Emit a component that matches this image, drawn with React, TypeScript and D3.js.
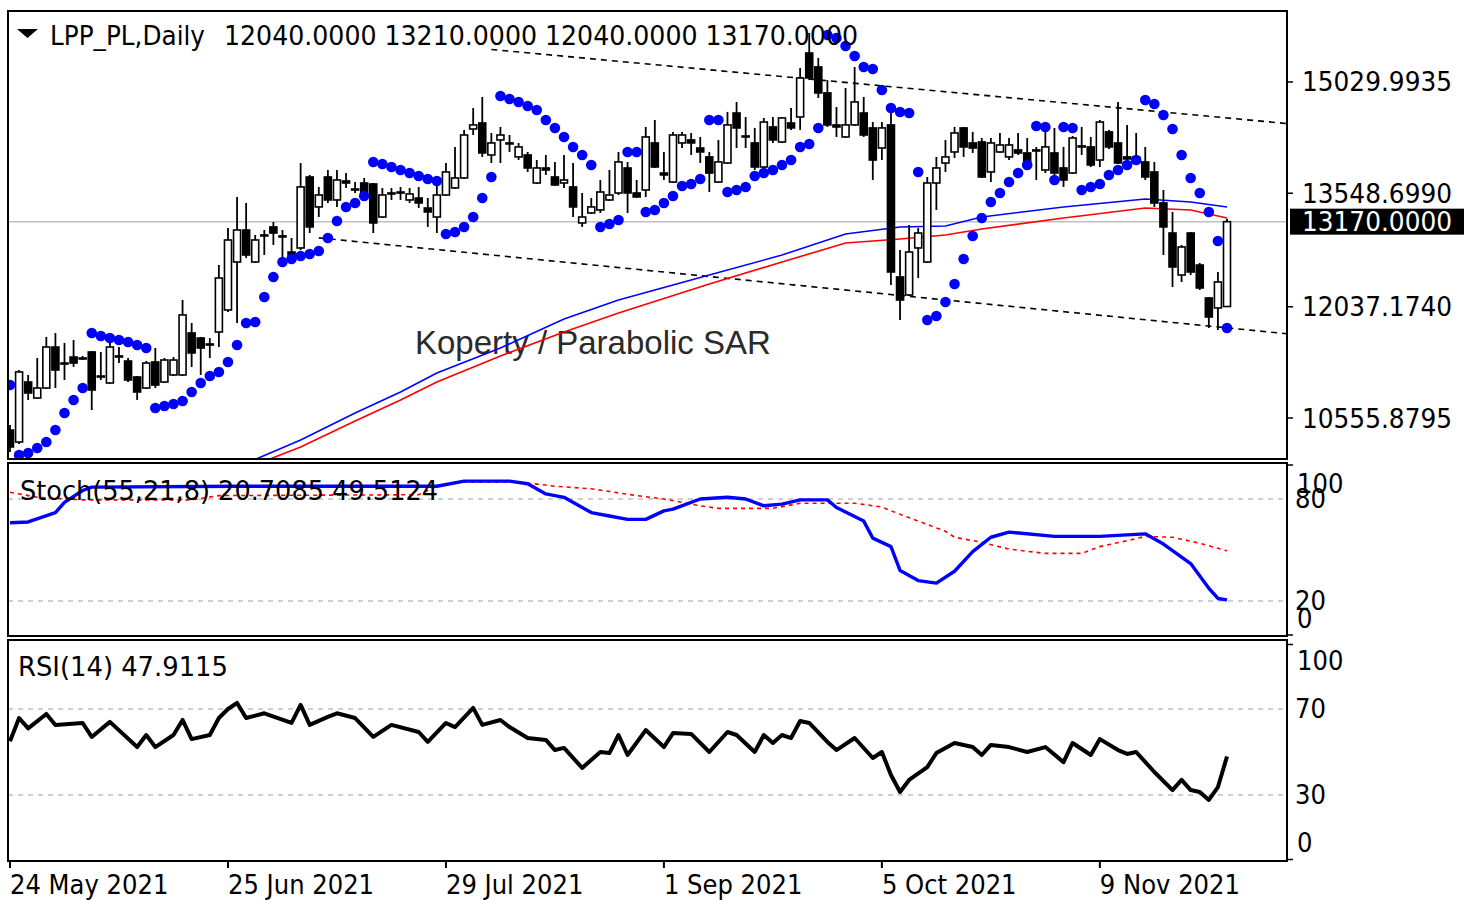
import React from "react";
import * as d3 from "d3";

// ---------- DATA ----------
const tickIdx = [0, 24, 48, 72, 96, 120];
const tickLabels = ["24 May 2021", "25 Jun 2021", "29 Jul 2021", "1 Sep 2021", "5 Oct 2021", "9 Nov 2021"];
const priceTicks = [15029.9935, 13548.699, 12037.174, 10555.8795];
const lastPrice = 13170;
const headerValues = [12040, 13210, 12040, 13170];
const stochHeader = [20.7085, 49.5124];
const rsiHeader = 47.9115;

const opens = [10396, 10236, 11035, 10822, 10955, 11501, 11288, 11368, 11355, 11435,
  11115, 11022, 11382, 11315, 11102, 10955, 11302, 11035, 11129, 11129,
  11688, 11621, 11541, 11701, 11994, 12633, 13059, 12633, 12993, 13100,
  12980, 12766, 12820, 13765, 13366, 13765, 13459, 13712, 13605, 13685,
  13672, 13232, 13552, 13552, 13459, 13485, 13352, 13232, 13525, 13619,
  13752, 14404, 14484, 14058, 14258, 14218, 14032, 14058, 13685, 13885,
  13765, 13685, 13632, 13153, 13286, 13326, 13459, 13552, 13885, 13552,
  13592, 14218, 13818, 13698, 14218, 14258, 14151, 14032, 13698, 13951,
  14617, 14311, 14218, 13898, 14431, 14231, 14484, 14564, 15416, 15230,
  14884, 14458, 14298, 14458, 14617, 14418, 14151, 14458, 12434, 12194,
  12820, 12633, 13685, 13951, 14098, 14418, 14218, 14231, 13832, 14098,
  14032, 14125, 14085, 14125, 13858, 14085, 13885, 13818, 14178, 14165,
  13991, 14365, 14218, 14032, 13951, 13965, 13832, 13419, 13019, 12460,
  13019, 12593, 12154, 12021, 12040];

const highs = [10463, 11195, 11129, 11355, 11635, 11688, 11555, 11595, 11382, 11448,
  11435, 11555, 11501, 11355, 11115, 11315, 11488, 11355, 11368, 12127,
  11821, 11635, 11621, 12593, 13086, 13499, 13419, 12993, 13059, 13166,
  13059, 12953, 13951, 13792, 13632, 13858, 13858, 13818, 13698, 13752,
  13685, 13619, 13619, 13632, 13619, 13632, 13485, 13685, 13951, 14165,
  14391, 14684, 14830, 14351, 14431, 14324, 14218, 14098, 13991, 14058,
  13965, 14058, 13951, 13552, 13485, 13725, 13858, 14098, 13965, 13725,
  14431, 14524, 14098, 14365, 14365, 14351, 14298, 14098, 14258, 14631,
  14764, 14564, 14418, 14551, 14564, 14564, 14684, 15217, 15683, 15350,
  15057, 14697, 14950, 15230, 14830, 14497, 14497, 14617, 12793, 13126,
  13086, 13765, 14032, 14258, 14431, 14431, 14365, 14284, 14284, 14351,
  14284, 14351, 14284, 14165, 14418, 14418, 14165, 14311, 14431, 14298,
  14524, 14391, 14764, 14458, 14351, 14165, 13965, 13592, 13299, 12860,
  13033, 12620, 12167, 12500, 13210];

const lows = [10103, 10210, 10796, 10809, 10942, 10955, 11062, 11235, 11328, 10662,
  11062, 11009, 11288, 11035, 10796, 10942, 10955, 11022, 11115, 11115,
  11235, 11129, 11355, 11501, 11968, 11821, 12686, 12620, 12726, 12860,
  12686, 12713, 12793, 13019, 13232, 13419, 13366, 13619, 13552, 13512,
  13019, 13219, 13459, 13459, 13419, 13352, 13100, 13019, 13512, 13605,
  13738, 14324, 14032, 13951, 13951, 14098, 13991, 13832, 13672, 13792,
  13645, 13619, 13232, 13100, 13272, 13286, 13445, 13525, 13286, 13485,
  13499, 13885, 13725, 13685, 14151, 14058, 13951, 13565, 13685, 13938,
  14151, 14151, 13858, 13885, 14218, 14218, 14391, 14391, 15057, 14817,
  14431, 14298, 14284, 14445, 14298, 13725, 13991, 12327, 11861, 12180,
  12420, 12620, 13326, 13832, 14018, 14032, 14085, 13752, 13698, 14085,
  13991, 14058, 13858, 13725, 13818, 13765, 13632, 13805, 14058, 13898,
  13898, 14138, 13938, 13991, 13938, 13725, 13366, 12726, 12300, 12367,
  12460, 12260, 11754, 11728, 12040];

const closes = [10170, 11169, 10889, 10955, 11501, 11195, 11275, 11288, 11348, 10929,
  11102, 11501, 11368, 11062, 10902, 11288, 10995, 11328, 11328, 11928,
  11422, 11488, 11528, 12420, 12926, 13059, 12726, 12926, 12980, 13019,
  12966, 12726, 13632, 13100, 13525, 13459, 13725, 13685, 13592, 13552,
  13153, 13525, 13539, 13565, 13539, 13419, 13299, 13525, 13832, 13752,
  14324, 14458, 14085, 14218, 14324, 14205, 14165, 13885, 13885, 13858,
  13659, 13725, 13366, 13232, 13366, 13565, 13525, 13965, 13552, 13499,
  14298, 13898, 13792, 14324, 14324, 14218, 14098, 13818, 13965, 14458,
  14418, 14298, 13898, 14497, 14258, 14551, 14418, 15083, 15083, 14884,
  14458, 14431, 14458, 14764, 14324, 13991, 14418, 12500, 12127, 12766,
  13019, 13685, 13885, 14032, 14351, 14165, 14151, 13765, 14218, 14191,
  14191, 14085, 13898, 14111, 14165, 13818, 13725, 14284, 14165, 13925,
  14497, 14165, 13951, 14005, 14032, 13765, 13419, 13100, 12567, 12833,
  12500, 12287, 11901, 12367, 13170];

const sar = [10995, 10063, 10090, 10156, 10236, 10396, 10623, 10796, 10955, 11688,
  11648, 11621, 11595, 11568, 11528, 11488, 10689, 10716, 10742, 10782,
  10902, 11022, 11115, 11169, 11302, 11528, 11821, 11834, 12167, 12434,
  12633, 12673, 12713, 12740, 12780, 12953, 13179, 13366, 13419, 13512,
  13965, 13938, 13898, 13858, 13818, 13778, 13738, 13712, 13006, 13033,
  13100, 13232, 13485, 13765, 14844, 14804, 14764, 14711, 14657, 14524,
  14418, 14298, 14165, 14058, 13925, 13100, 13139, 13192, 14098, 14098,
  13299, 13326, 13419, 13512, 13645, 13672, 13738, 14524, 14524, 13565,
  13592, 13632, 13778, 13818, 13858, 13925, 13991, 14165, 14205, 14418,
  15656, 15616, 15509, 15376, 15230, 15203, 14924, 14684, 14631, 14617,
  13832, 11861, 11914, 12101, 12340, 12673, 12980, 13219, 13432, 13552,
  13698, 13818, 13925, 14444, 14431, 13725, 14431, 14418, 13592, 13632,
  13672, 13792, 13858, 13925, 13991, 14790, 14737, 14591, 14404, 14058,
  13752, 13552, 13299, 12913, 11754];

const envIdx = [26, 32, 38, 43, 47, 54, 61, 67, 77, 85, 92, 98, 103, 107, 116, 125, 130, 134];
const envUpper = [9953, 10263, 10623, 10902, 11155, 11488, 11874, 12127, 12460, 12726, 13006, 13100, 13113, 13232, 13366, 13472, 13432, 13366];
const envLower = [9886, 10170, 10516, 10796, 11035, 11382, 11701, 11954, 12340, 12633, 12886, 12940, 12993, 13073, 13219, 13352, 13326, 13219];

const channelUpperIdx = [53, 141];
const channelUpperPrice = [15463, 14472];
const channelLowerIdx = [34, 141];
const channelLowerPrice = [12954, 11673];

const stochIdx = [0, 2, 5, 6, 8, 9, 25, 47, 50, 55, 57, 59, 61, 64, 66, 68, 70, 72, 73, 76, 79, 81, 83, 85, 87, 90, 91, 94, 95, 97, 98, 100, 102, 104, 106, 108, 110, 115, 120, 125, 127, 130, 132, 133, 134];
const stochMain = [66, 66.5, 72, 78, 85, 87, 87.5, 87.5, 90.5, 90.5, 89, 83, 81, 72, 70, 68, 68, 73, 74, 80, 81, 80, 76, 77, 79.5, 79.5, 75, 67, 57, 52, 38, 32, 30.5, 37.5, 49, 57.5, 60.5, 58, 58, 59.5, 53.5, 42, 27.5, 21.5, 20.7];
const signalIdx = [0, 3, 8, 20, 23, 45, 47, 50, 56, 60, 64, 69, 72, 76, 78, 84, 87, 93, 96, 98, 101, 103, 104, 107, 110, 114, 118, 120, 123, 125, 128, 131, 134];
const stochSignal = [84, 81, 79.5, 79.5, 82, 82.5, 87.5, 90, 90, 87.5, 86, 82, 80, 76, 74.5, 74.5, 77.5, 77.5, 75.3, 71, 65, 61, 57.5, 54.5, 50.5, 48, 48, 52, 55.5, 58, 57.5, 54, 49.5];

const rsiIdx = [0, 1, 2, 4, 5, 8, 9, 11, 14, 15, 16, 18, 19, 20, 22, 23, 24, 25, 26, 28,
  31, 32, 33, 35, 36, 38, 40, 42, 45, 46, 48, 49, 51, 52, 54, 55, 57, 59, 60, 61,
  63, 65, 66, 67, 68, 70, 72, 73, 75, 77, 79, 80, 82, 83, 84, 85, 86, 87, 88, 90,
  91, 93, 95, 96, 97, 98, 99, 101, 102, 104, 106, 107, 108, 110, 112, 114, 116, 117, 119, 120,
  122, 123, 124, 126, 128, 129, 130, 131, 132, 133, 134];
const rsiVal = [55, 65.8, 61, 67.7, 62.6, 63.5, 57, 64, 52.3, 57.9, 52.3, 57.9, 64.9, 56, 57.9, 65.8, 70, 72.8, 65.8, 68,
  63.5, 71.9, 62.6, 66.3, 68, 65.8, 57, 62.6, 59.3, 54.7, 63.5, 61.6, 70.5, 62.6, 64.9, 61.6, 56.5, 55.6, 50.9, 51.9,
  42.6, 50, 49.5, 57.9, 48.6, 60.2, 52.3, 58.8, 58.4, 50, 59.3, 57.9, 50, 57.9, 54.2, 57.9, 56.5, 64.4, 63.5, 54.7,
  50.9, 56.5, 47.2, 50, 39.3, 31.4, 37, 43, 49.5, 54.2, 52.3, 48.6, 53.3, 52.3, 50, 52.3, 45.3, 54.2, 48.6, 56,
  50.9, 49.1, 50, 40.7, 32.3, 37, 32.3, 31.4, 27.7, 33.7, 47.9];

const stochLevels = [80, 20];
const rsiLevels = [70, 30];

// ---------- HELPERS ----------
const F = "'DejaVu Sans', Verdana, sans-serif";

function Label(props: { x: number; y: number; text: string; size?: number; fill?: string; len?: number; sx?: number; family?: string }) {
  const { x, y, text, size = 27, fill = "#000", len, sx = 0.9, family = F } = props;
  if (len) {
    return (
      <text x={x} y={y} fontFamily={family} fontSize={size} fill={fill} textLength={len} lengthAdjust="spacingAndGlyphs" dominantBaseline="central">
        {text}
      </text>
    );
  }
  return (
    <text transform={`translate(${x},${y}) scale(${sx},1)`} fontFamily={family} fontSize={size} fill={fill} dominantBaseline="central">
      {text}
    </text>
  );
}

export default function App() {
  const n = closes.length;
  const L = 8, R = 1287;
  const x = d3.scaleLinear().domain([0, n - 1]).range([10, 1227]);
  const y = d3.scaleLinear().domain([10010, 15975]).range([459, 11]);
  const ys = d3.scaleLinear().domain([0, 100]).range([635, 465]);
  const yr = d3.scaleLinear().domain([0, 100]).range([859.5, 644.5]);

  const pairLine = (idx: number[], vals: number[], sy: (v: number) => number) =>
    d3.line<number>().x((_, i) => x(idx[i])).y((d) => sy(d))(vals) || "";

  const envUpPath = pairLine(envIdx, envUpper, y);
  const envLoPath = pairLine(envIdx, envLower, y);
  const chUpPath = pairLine(channelUpperIdx, channelUpperPrice, y);
  const chLoPath = pairLine(channelLowerIdx, channelLowerPrice, y);
  const stMainPath = pairLine(stochIdx, stochMain, ys);
  const stSigPath = pairLine(signalIdx, stochSignal, ys);
  const rsiPath = pairLine(rsiIdx, rsiVal, yr);

  const bw = 7;
  const yLast = y(lastPrice);

  return (
    <div style={{ position: "absolute", left: 0, top: 0 }}>
      <svg width={1464} height={900} style={{ display: "block", background: "#fff" }}>
        <defs>
          <clipPath id="clipMain"><rect x={L} y={11} width={R - L} height={448} /></clipPath>
          <clipPath id="clipSto"><rect x={L} y={463} width={R - L} height={173} /></clipPath>
          <clipPath id="clipRsi"><rect x={L} y={640} width={R - L} height={221} /></clipPath>
        </defs>
        <rect x={0} y={0} width={1464} height={900} fill="#fff" />

        {/* MAIN PANEL */}
        <g clipPath="url(#clipMain)">
          <line x1={L} x2={R} y1={yLast} y2={yLast} stroke="#c0c0c0" strokeWidth={1.5} />
          <text x={415} y={342} fontFamily="'Liberation Sans', Arial, sans-serif" fontSize={33} fill="#2a2a2a" dominantBaseline="central">
            Koperty / Parabolic SAR
          </text>
          <path d={chUpPath} fill="none" stroke="#000" strokeWidth={1.6} strokeDasharray="6,5" />
          <path d={chLoPath} fill="none" stroke="#000" strokeWidth={1.6} strokeDasharray="6,5" />
          <path d={envUpPath} fill="none" stroke="#0000ff" strokeWidth={1.6} />
          <path d={envLoPath} fill="none" stroke="#ff0000" strokeWidth={1.6} />
          {closes.map((c, i) => (
            <line key={"w" + i} x1={x(i)} x2={x(i)} y1={y(highs[i])} y2={y(lows[i])} stroke="#000" strokeWidth={1.8} />
          ))}
          {closes.map((c, i) => {
            const o = opens[i];
            const top = y(Math.max(o, c));
            const h = Math.max(1, Math.abs(y(o) - y(c)));
            const bull = c >= o;
            return (
              <rect key={"b" + i} x={x(i) - bw / 2} y={top} width={bw} height={h}
                fill={bull ? "#fff" : "#000"} stroke="#000" strokeWidth={1.6} />
            );
          })}
          {sar.map((s, i) => (
            <circle key={"s" + i} cx={x(i)} cy={y(s)} r={5.3} fill="#0000ff" />
          ))}
        </g>

        {/* header */}
        <polygon points="17,29 38,29 27.5,38" fill="#000" />
        <Label x={50} y={35} text="LPP_PL,Daily" len={155} />
        <Label x={224} y={35} text={headerValues.map((v) => v.toFixed(4)).join(" ")} len={634} />

        {/* STOCH PANEL */}
        <g clipPath="url(#clipSto)">
          {stochLevels.map((lv) => (
            <line key={"sl" + lv} x1={L} x2={R} y1={ys(lv)} y2={ys(lv)} stroke="#c0c0c0" strokeWidth={1.5} strokeDasharray="5,5" />
          ))}
          <path d={stSigPath} fill="none" stroke="#ff0000" strokeWidth={1.6} strokeDasharray="4,4" />
          <path d={stMainPath} fill="none" stroke="#0000ff" strokeWidth={3.4} strokeLinejoin="round" />
        </g>
        <Label x={20} y={490} text={`Stoch(55,21,8) ${stochHeader[0].toFixed(4)} ${stochHeader[1].toFixed(4)}`} len={418} />

        {/* RSI PANEL */}
        <g clipPath="url(#clipRsi)">
          {rsiLevels.map((lv) => (
            <line key={"rl" + lv} x1={L} x2={R} y1={yr(lv)} y2={yr(lv)} stroke="#c0c0c0" strokeWidth={1.5} strokeDasharray="5,5" />
          ))}
          <path d={rsiPath} fill="none" stroke="#000" strokeWidth={4} strokeLinejoin="round" />
        </g>
        <Label x={18} y={666} text={`RSI(14) ${rsiHeader.toFixed(4)}`} len={210} />

        {/* FRAMES */}
        <rect x={L} y={11} width={R - L} height={448} fill="none" stroke="#000" strokeWidth={2} />
        <rect x={L} y={463} width={R - L} height={173} fill="none" stroke="#000" strokeWidth={2} />
        <rect x={L} y={640} width={R - L} height={221} fill="none" stroke="#000" strokeWidth={2} />

        {/* PRICE AXIS */}
        {priceTicks.map((p) => (
          <g key={"pt" + p}>
            <line x1={R} x2={R + 6} y1={y(p)} y2={y(p)} stroke="#000" strokeWidth={1.5} />
            <Label x={1302} y={y(p)} text={p.toFixed(4)} len={150} />
          </g>
        ))}
        <rect x={1290} y={yLast - 13} width={174} height={26} fill="#000" />
        <Label x={1302} y={yLast} text={lastPrice.toFixed(4)} fill="#fff" len={150} />

        {/* STOCH AXIS */}
        <line x1={R} x2={R + 6} y1={ys(100)} y2={ys(100)} stroke="#000" strokeWidth={1.5} />
        <line x1={R} x2={R + 6} y1={ys(0)} y2={ys(0)} stroke="#000" strokeWidth={1.5} />
        <Label x={1297} y={ys(100) + 19} text="100" />
        <Label x={1295} y={ys(80)} text="80" />
        <Label x={1295} y={ys(20)} text="20" />
        <Label x={1297} y={ys(0) - 16} text="0" />

        {/* RSI AXIS */}
        <line x1={R} x2={R + 6} y1={yr(100)} y2={yr(100)} stroke="#000" strokeWidth={1.5} />
        <line x1={R} x2={R + 6} y1={yr(0)} y2={yr(0)} stroke="#000" strokeWidth={1.5} />
        <Label x={1297} y={yr(100) + 16.5} text="100" />
        <Label x={1295} y={yr(70)} text="70" />
        <Label x={1295} y={yr(30)} text="30" />
        <Label x={1297} y={yr(0) - 16.5} text="0" />

        {/* TIME AXIS */}
        {tickIdx.map((t, k) => (
          <g key={"tx" + t}>
            <line x1={x(t)} x2={x(t)} y1={861} y2={868} stroke="#000" strokeWidth={2} />
            <Label x={x(t)} y={885} text={tickLabels[k]} />
          </g>
        ))}
      </svg>
    </div>
  );
}
